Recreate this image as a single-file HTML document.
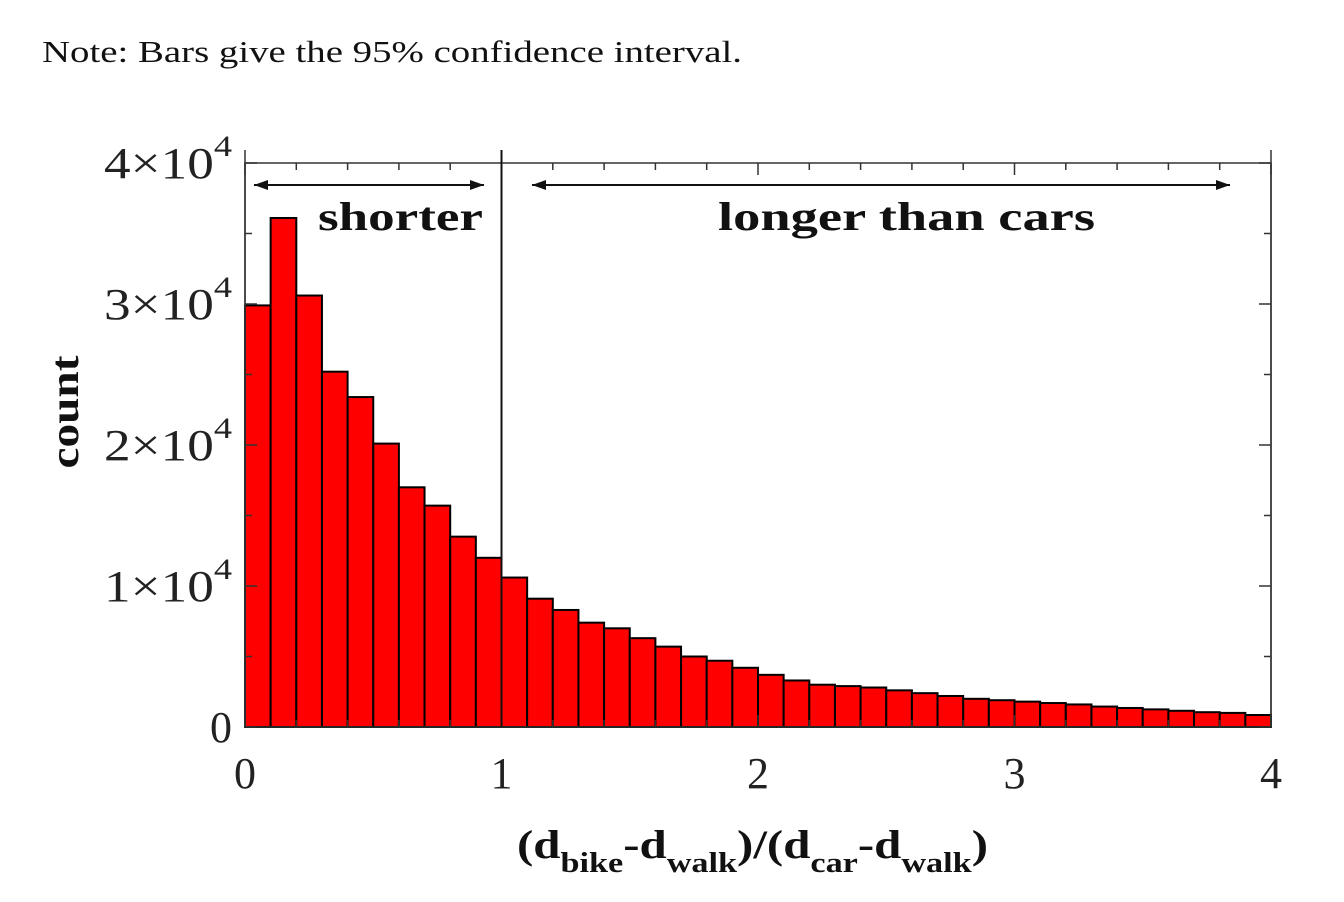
<!DOCTYPE html>
<html><head><meta charset="utf-8">
<style>
html,body{margin:0;padding:0;background:#fff;}
body{width:1344px;height:902px;overflow:hidden;position:relative;font-family:"Liberation Serif",serif;}
svg{position:absolute;left:0;top:0;}
</style></head>
<body>
<svg id="chart" width="1344" height="902" font-family="Liberation Serif, serif">
<text x="42" y="62" font-size="31" fill="#111" textLength="700" lengthAdjust="spacingAndGlyphs">Note: Bars give the 95% confidence interval.</text>
</svg>
<script>
const binStarts = [0,0.1,0.2,0.3,0.4,0.5,0.6,0.7,0.8,0.9,1.0,1.1,1.2,1.3,1.4,1.5,1.6,1.7,1.8,1.9,2.0,2.1,2.2,2.3,2.4,2.5,2.6,2.7,2.8,2.9,3.0,3.1,3.2,3.3,3.4,3.5,3.6,3.7,3.8,3.9];
const counts = [29900,36100,30600,25200,23400,20100,17000,15700,13500,12000,10600,9100,8300,7400,7000,6300,5700,5000,4700,4200,3700,3300,3000,2900,2800,2600,2400,2200,2000,1900,1800,1700,1600,1450,1350,1250,1150,1050,1000,850];
const binWidth = 0.1;
const xTicks = [0,1,2,3,4];
const xTickLabels = ["0","1","2","3","4"];
const yTicks = [0,10000,20000,30000,40000];
const yTickMant = ["0","1","2","3","4"];

const svg = document.getElementById('chart');
const NS = 'http://www.w3.org/2000/svg';
const X0=245, X1=1271, Y0=727, Y1=163;
const x = v => X0 + (v/4)*(X1-X0);
const y = v => Y0 - (v/40000)*(Y0-Y1);
function mk(tag, attrs, parent){const e=document.createElementNS(NS,tag);for(const k in attrs)e.setAttribute(k,attrs[k]);(parent||svg).appendChild(e);return e;}

const bars = mk('g',{});


binStarts.forEach((b,i)=>{
  const r = mk('rect',{x:x(b),y:y(counts[i]),width:x(b+binWidth)-x(b),height:Y0-y(counts[i]),fill:'#ff0000',stroke:'#000','stroke-width':2},bars);
  
  
});

const frame = mk('rect',{x:X0,y:Y1,width:X1-X0,height:Y0-Y1,fill:'none',stroke:'#333','stroke-width':1.5});


mk('line',{x1:X0,y1:150,x2:X0,y2:Y0,stroke:'#333','stroke-width':1.5});
mk('line',{x1:X1,y1:150,x2:X1,y2:Y0,stroke:'#333','stroke-width':1.5});

for(let v=0; v<=4.001; v+=0.2){
  const major = Math.abs(v-Math.round(v))<1e-6;
  const L = major?12:7;
  mk('line',{x1:x(v),y1:Y0,x2:x(v),y2:Y0-L,stroke:'#333','stroke-width':1.5});
  mk('line',{x1:x(v),y1:Y1,x2:x(v),y2:Y1+L,stroke:'#333','stroke-width':1.5});
}
for(let v=0; v<=40000; v+=5000){
  const major = v%10000===0;
  const L = major?12:7;
  mk('line',{x1:X0,y1:y(v),x2:X0+L,y2:y(v),stroke:'#333','stroke-width':1.5});
  mk('line',{x1:X1,y1:y(v),x2:X1-L,y2:y(v),stroke:'#333','stroke-width':1.5});
}
xTicks.forEach((v,i)=>{
  const t = mk('text',{x:x(v),y:788,'font-size':44,'text-anchor':'middle',fill:'#222'});
  t.textContent = xTickLabels[i];
  
  
});
yTicks.forEach((v,i)=>{
  const t = mk('text',{x:232,y:y(v)+15,'font-size':44,'text-anchor':'end',fill:'#222'});
  if(v===0){ t.textContent='0'; }
  else {
    t.setAttribute('textLength',128);
    t.setAttribute('lengthAdjust','spacingAndGlyphs');
    t.textContent = yTickMant[i]+'×10';
    const s = mk('tspan',{dy:-22,'font-size':30},t); s.textContent='4';
  }
  
  
});

const dv = mk('line',{x1:x(1),y1:150,x2:x(1),y2:Y0,stroke:'#111','stroke-width':2});



function arrow(a,b,name){
  const g = mk('g',{});
  
  
  const yy=185;
  mk('line',{x1:a,y1:yy,x2:b,y2:yy,stroke:'#111','stroke-width':2},g);
  mk('polygon',{points:`${a},${yy} ${a+14},${yy-5} ${a+14},${yy+5}`,fill:'#111'},g);
  mk('polygon',{points:`${b},${yy} ${b-14},${yy-5} ${b-14},${yy+5}`,fill:'#111'},g);
}
arrow(254,484,'shorter-arrow');
arrow(532,1230,'longer-arrow');
const t1 = mk('text',{x:318,y:230,'font-size':40,'font-weight':'bold',fill:'#111',textLength:165,lengthAdjust:'spacingAndGlyphs'});
t1.textContent='shorter';


const t2 = mk('text',{x:718,y:230,'font-size':40,'font-weight':'bold',fill:'#111',textLength:377,lengthAdjust:'spacingAndGlyphs'});
t2.textContent='longer than cars';



const yt = mk('text',{x:0,y:0,'font-size':40,'font-weight':'bold','text-anchor':'middle',fill:'#111',textLength:113,lengthAdjust:'spacingAndGlyphs',transform:'translate(78,412) rotate(-90)'});
yt.textContent='count';



const xt = mk('text',{x:517,y:858,'font-size':40,'font-weight':'bold',fill:'#111',textLength:471,lengthAdjust:'spacingAndGlyphs'});


const parts=[['(d',0,40],['bike',14,28],['-d',-14,40],['walk',14,28],[')/(d',-14,40],['car',14,28],['-d',-14,40],['walk',14,28],[')',-14,40]];
parts.forEach(p=>{const s=mk('tspan',{dy:p[1],'font-size':p[2]},xt);s.textContent=p[0];});
</script>
</body></html>
